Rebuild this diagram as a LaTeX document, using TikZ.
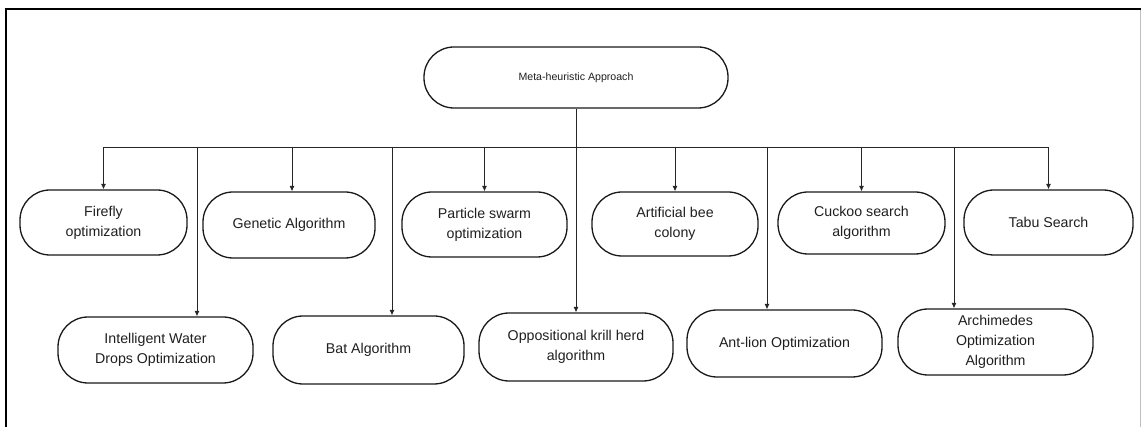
\documentclass[tikz,border=0pt]{standalone}
\usepackage{fontspec}
\setmainfont{Liberation Sans}
\usetikzlibrary{arrows.meta}
\begin{document}
\begin{tikzpicture}[x=1pt,y=-1pt,
  algbox/.style={draw=black!90, line width=1.3pt, rounded corners=30pt,
    align=center, inner sep=0pt, text=black!88,
    font=\fontsize{14.2}{20}\selectfont},
  link/.style={draw=black!85, line width=0.8pt},
  arr/.style={link, -{Latex[length=5.5pt,width=5pt]}}]
\useasboundingbox (0,0) rectangle (1141,427);

% page frame
\draw[line width=2.6pt] (4.7,9) -- (1141,9);
\draw[line width=2pt] (6,9) -- (6,427);
\draw[black!25, line width=1pt] (1140,10) -- (1140,427);

% root
\node[algbox, minimum width=304pt, minimum height=61pt,
  font=\fontsize{10.6}{13}\selectfont] (root) at (576,77.5) {Meta-heuristic Approach};

% first row
\node[algbox, minimum width=167pt, minimum height=65pt] (fire) at (103.5,222.5) {Firefly\\optimization};
\node[algbox, minimum width=172pt, minimum height=66pt] (ga)   at (289,225)     {Genetic Algorithm};
\node[algbox, minimum width=165pt, minimum height=65pt] (pso)  at (484.5,224.5) {Particle swarm\\optimization};
\node[algbox, minimum width=166pt, minimum height=64pt] (abc)  at (675,224)     {Artificial bee\\colony};
\node[algbox, minimum width=167pt, minimum height=62pt] (cs)   at (861.5,223)   {Cuckoo search\\algorithm};
\node[algbox, minimum width=169pt, minimum height=65pt] (tabu) at (1048.5,222.5) {Tabu Search};

% second row
\node[algbox, minimum width=195pt, minimum height=66pt] (iwd)  at (155.5,350)   {Intelligent Water\\Drops Optimization};
\node[algbox, minimum width=191pt, minimum height=68pt] (bat)  at (368.5,350)   {Bat Algorithm};
\node[algbox, minimum width=194pt, minimum height=68pt] (okh)  at (576,347)     {Oppositional krill herd\\algorithm};
\node[algbox, minimum width=195pt, minimum height=67pt] (alo)  at (784.5,343.5) {Ant-lion Optimization};
\node[algbox, minimum width=195pt, minimum height=66pt] (aoa)  at (995.5,342)   {Archimedes\\Optimization\\Algorithm};

% bus and taps for the second row
\coordinate (bus) at (576,147);
\coordinate (t1) at (197,147);
\coordinate (t2) at (392,147);
\coordinate (t3) at (576,147);
\coordinate (t4) at (767,147);
\coordinate (t5) at (954,147);

\draw[link, line width=1pt] (root.south) -- (bus);
\draw[link] (fire.north |- bus) -- (tabu.north |- bus);

% arrows to the first row
\foreach \n in {fire,pso,abc,cs,tabu}
  \draw[arr] (\n.north |- bus) -- (\n.north);
\draw[arr] (292,147) coordinate (tga) -- (tga |- ga.north);

% arrows to the second row
\draw[arr] (t1) -- (t1 |- iwd.north);
\draw[arr] (t2) -- (t2 |- bat.north);
\draw[arr] (t3) -- (okh.north);
\draw[arr] (t4) -- (t4 |- alo.north);
\draw[arr] (t5) -- (t5 |- aoa.north);
\end{tikzpicture}
\end{document}
